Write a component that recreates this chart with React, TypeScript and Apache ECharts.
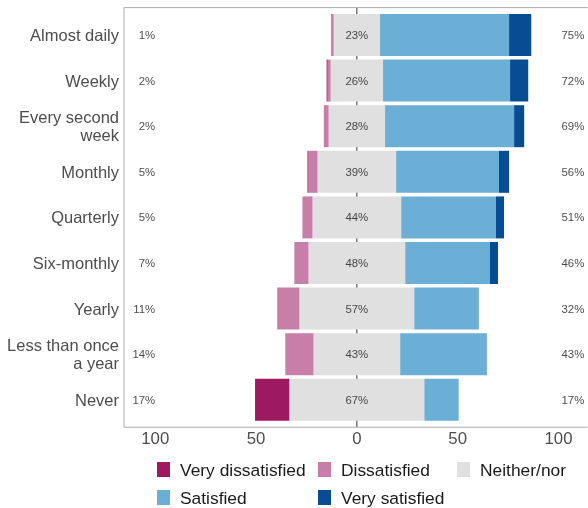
import React, { useEffect, useRef } from "react";
import * as echarts from "echarts";

const categories = [
  "Almost daily",
  "Weekly",
  "Every second\nweek",
  "Monthly",
  "Quarterly",
  "Six-monthly",
  "Yearly",
  "Less than once\na year",
  "Never",
];
const veryDissatisfied = [0, 0.5, 0, 0.5, 0, 0, 0, 0, 17];
const dissatisfied = [1.3, 1.5, 2.4, 4.5, 5, 7, 11, 14, 0];
const neitherNor = [23, 26, 28, 39, 44, 48, 57, 43, 67];
const satisfied = [64, 63, 64, 51, 47, 42, 32, 43, 17];
const verySatisfied = [11, 9, 5, 5, 4, 4, 0, 0, 0];
const xTickValues = [-100, -50, 0, 50, 100];

const COLORS = {
  veryDis: "#9E1A60",
  dis: "#C77FAA",
  neutral: "#E0E0E0",
  sat: "#6BAED6",
  verySat: "#084D94",
};

export default function App() {
  const ref = useRef<HTMLDivElement>(null);
  useEffect(() => {
    const chart = echarts.init(ref.current!, null, { renderer: "svg" });
    const font = "'Liberation Sans', Arial, Helvetica, sans-serif";
    const band = 45.6;
    const gridTop = 12.2;
    const gridLeft = 124;
    const gridWidth = 463.7;
    const panelTop = 7.6;
    const panelBottom = 427.2;
    const borderColor = "#ADADAD";

    const leftTotals = veryDissatisfied.map((v, i) => Math.round(v + dissatisfied[i]));
    const rightTotals = satisfied.map((v, i) => Math.round(v + verySatisfied[i]));
    const halfNeutral = neitherNor.map((v) => v / 2);

    const bar = (name: string, stack: string, data: number[], color: string, extra: any = {}) => ({
      type: "bar",
      name,
      stack,
      data,
      barWidth: 42,
      barGap: "-100%",
      itemStyle: { color },
      emphasis: { disabled: true },
      silent: color === "transparent",
      z: 10,
      ...extra,
    });

    const labelSeries = (xv: number, pos: string, texts: string[]) => ({
      type: "scatter",
      data: categories.map((c) => [xv, c]),
      symbolSize: 0,
      silent: true,
      z: 12,
      label: {
        show: true,
        position: pos,
        distance: 0,
        fontSize: 11.4,
        fontFamily: font,
        color: "#1A1A1A",
        formatter: (p: any) => texts[p.dataIndex],
      },
    });

    const legendItem = (name: string, left: number, top: number) => ({
      left,
      top,
      padding: 0,
      itemWidth: 13,
      itemHeight: 15,
      icon: "rect",
      selectedMode: false,
      data: [name],
      textStyle: {
        fontSize: 17.4,
        fontFamily: font,
        color: "#1A1A1A",
        padding: [0, 0, 0, 5],
      },
    });

    const option: any = {
      animation: false,
      grid: {
        left: gridLeft,
        top: gridTop,
        width: gridWidth,
        height: band * 9,
        containLabel: false,
      },
      xAxis: {
        type: "value",
        min: -115.5,
        max: 114.5,
        axisLine: { show: false },
        axisTick: { show: false },
        splitLine: { show: false },
        axisLabel: {
          customValues: xTickValues,
          formatter: (v: number) => String(Math.abs(v)),
          fontSize: 16.8,
          fontFamily: font,
          color: "#4D4D4D",
          margin: 7,
        },
      },
      yAxis: {
        type: "category",
        data: categories,
        inverse: true,
        axisLine: { show: false },
        axisTick: {
          show: true,
          alignWithLabel: true,
          length: 3,
          lineStyle: { color: borderColor },
        },
        axisLabel: {
          fontSize: 16.5,
          fontFamily: font,
          color: "#4D4D4D",
          margin: 5,
          lineHeight: 17.5,
          align: "right",
        },
      },
      legend: [
        legendItem("Very dissatisfied", 157, 461),
        legendItem("Dissatisfied", 318, 461),
        legendItem("Neither/nor", 457, 461),
        legendItem("Satisfied", 157, 489),
        legendItem("Very satisfied", 318, 489),
      ],
      series: [
        // neutral block centred on zero
        bar("_midOffset", "mid", halfNeutral.map((v) => -v), "transparent", { stackStrategy: "all" }),
        bar("Neither/nor", "mid", neitherNor, COLORS.neutral, { stackStrategy: "all" }),
        // negative side
        bar("_negOffset", "neg", halfNeutral.map((v) => -v), "transparent"),
        bar("Dissatisfied", "neg", dissatisfied.map((v) => -v), COLORS.dis),
        bar("Very dissatisfied", "neg", veryDissatisfied.map((v) => -v), COLORS.veryDis),
        // positive side
        bar("_posOffset", "pos", halfNeutral, "transparent"),
        bar("Satisfied", "pos", satisfied, COLORS.sat),
        bar("Very satisfied", "pos", verySatisfied, COLORS.verySat),
        labelSeries(-100, "left", leftTotals.map((v) => v + "%")),
        labelSeries(101.5, "right", rightTotals.map((v) => v + "%")),
        labelSeries(0, "inside", neitherNor.map((v) => Math.round(v) + "%")),
      ],
    };
    chart.setOption(option);

    const x0 = chart.convertToPixel({ xAxisIndex: 0 }, 0) as number;
    const line = (x1: number, y1: number, x2: number, y2: number, stroke: string) => ({
      type: "line",
      z: 0,
      silent: true,
      shape: { x1, y1, x2, y2 },
      style: { stroke, lineWidth: 1 },
    });
    chart.setOption({
      graphic: {
        elements: [
          line(x0, panelTop, x0, panelBottom, "#333333"),
          line(gridLeft, panelTop, gridLeft + gridWidth, panelTop, borderColor),
          line(gridLeft, panelBottom, gridLeft + gridWidth, panelBottom, borderColor),
          line(gridLeft, panelTop, gridLeft, panelBottom, borderColor),
        ],
      },
    });

    return () => chart.dispose();
  }, []);
  return (
    <div
      ref={ref}
      style={{ position: "fixed", left: 0, top: 0, width: 588, height: 508 }}
    />
  );
}
